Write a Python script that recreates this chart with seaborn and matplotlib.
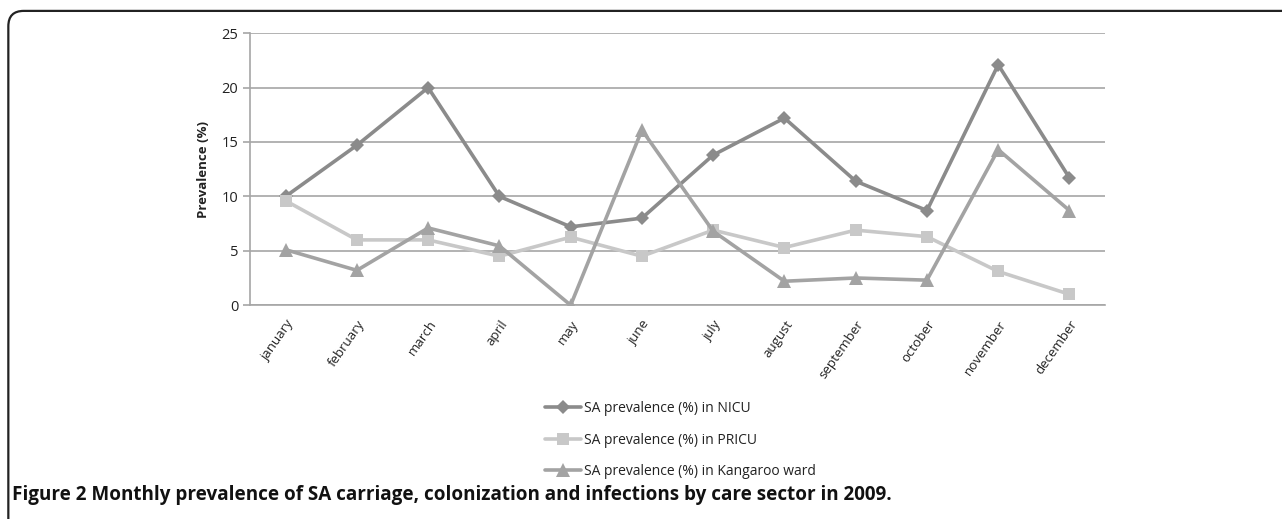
import matplotlib.pyplot as plt
import numpy as np
import pandas as pd
import seaborn as sns
from matplotlib.patches import FancyBboxPatch
from matplotlib.lines import Line2D

months = ["january", "february", "march", "april", "may", "june", "july",
          "august", "september", "october", "november", "december"]
nicu = [10.0, 14.7, 20.0, 10.0, 7.2, 8.0, 13.8, 17.2, 11.4, 8.7, 22.1, 11.7]
pricu = [9.6, 6.0, 6.0, 4.5, 6.25, 4.5, 6.9, 5.3, 6.9, 6.3, 3.1, 1.0]
kangaroo = [5.1, 3.2, 7.1, 5.45, 0.0, 16.1, 6.8, 2.2, 2.5, 2.3, 14.3, 8.7]

series_names = ["SA prevalence (%) in NICU", "SA prevalence (%) in PRICU",
                "SA prevalence (%) in Kangaroo ward"]
series_values = [nicu, pricu, kangaroo]
colors = ["#8b8b8b", "#c8c8c8", "#a3a3a3"]
markers = ["D", "s", "^"]
sizes = [7, 9, 10]

df = pd.concat(
    [pd.DataFrame({"month": months, "value": v, "series": n})
     for n, v in zip(series_names, series_values)],
    ignore_index=True,
)

sns.set_style("white")
plt.rcParams["font.family"] = ["Open Sans", "DejaVu Sans"]

fig = plt.figure(figsize=(12.82, 5.19), dpi=100)
ax = fig.add_axes([0.195, 0.412, 0.667, 0.524])

for name, col, mk, ms in zip(series_names, colors, markers, sizes):
    sub = df[df["series"] == name]
    sns.lineplot(data=sub, x="month", y="value", color=col, marker=mk,
                 markersize=ms, markeredgewidth=0, linewidth=2.6,
                 sort=False, ax=ax, label=name, legend=False)

ax.set_xlim(-0.5, 11.5)
ax.set_ylim(0, 25)
ax.set_yticks(np.arange(0, 26, 5))
ax.yaxis.grid(True, color="#a6a6a6", linewidth=1.2)
ax.set_axisbelow(True)
for s in ["top", "right"]:
    ax.spines[s].set_visible(False)
for s in ["left", "bottom"]:
    ax.spines[s].set_color("#a6a6a6")
    ax.spines[s].set_linewidth(1.2)

ax.set_xticks(np.arange(12))
ax.set_xticklabels(months, rotation=55, ha="right", rotation_mode="anchor",
                   fontsize=9.5, color="#222222")
ax.set_xticks(np.arange(-0.5, 12, 1), minor=True)
ax.tick_params(axis="x", which="major", length=0, pad=9)
ax.tick_params(axis="x", which="minor", length=5, color="#a6a6a6", width=1.2)
ax.tick_params(axis="y", length=5, color="#a6a6a6", width=1.2, labelsize=10.5,
               labelcolor="#222222", left=True)
ax.set_xlabel("")
ax.set_ylabel("Prevalence (%)", fontsize=9.5, fontweight="bold", color="#222222",
              labelpad=8)

handles = [Line2D([0], [0], color=c, marker=m, markersize=s, markeredgewidth=0,
                  linewidth=2.6) for c, m, s in zip(colors, markers, sizes)]
fig.legend(handles, series_names, loc="upper left", bbox_to_anchor=(0.42, 0.241),
           frameon=False, fontsize=10, handlelength=2.6, handletextpad=0.15,
           labelspacing=1.2, labelcolor="#222222", borderpad=0)

frame = FancyBboxPatch((0.0065, -0.05), 1.2, 1.029, boxstyle="round,pad=0,rounding_size=0.012",
                       transform=fig.transFigure, fill=False, edgecolor="#222222",
                       linewidth=1.6, mutation_aspect=12.82 / 5.19)
fig.patches.append(frame)

fig.text(0.009, 0.046, "Figure 2 Monthly prevalence of SA carriage, colonization and infections by care sector in 2009.",
         fontsize=13.6, fontweight="bold", color="#111111", ha="left", va="center")

fig.savefig("out.png", dpi=100)
